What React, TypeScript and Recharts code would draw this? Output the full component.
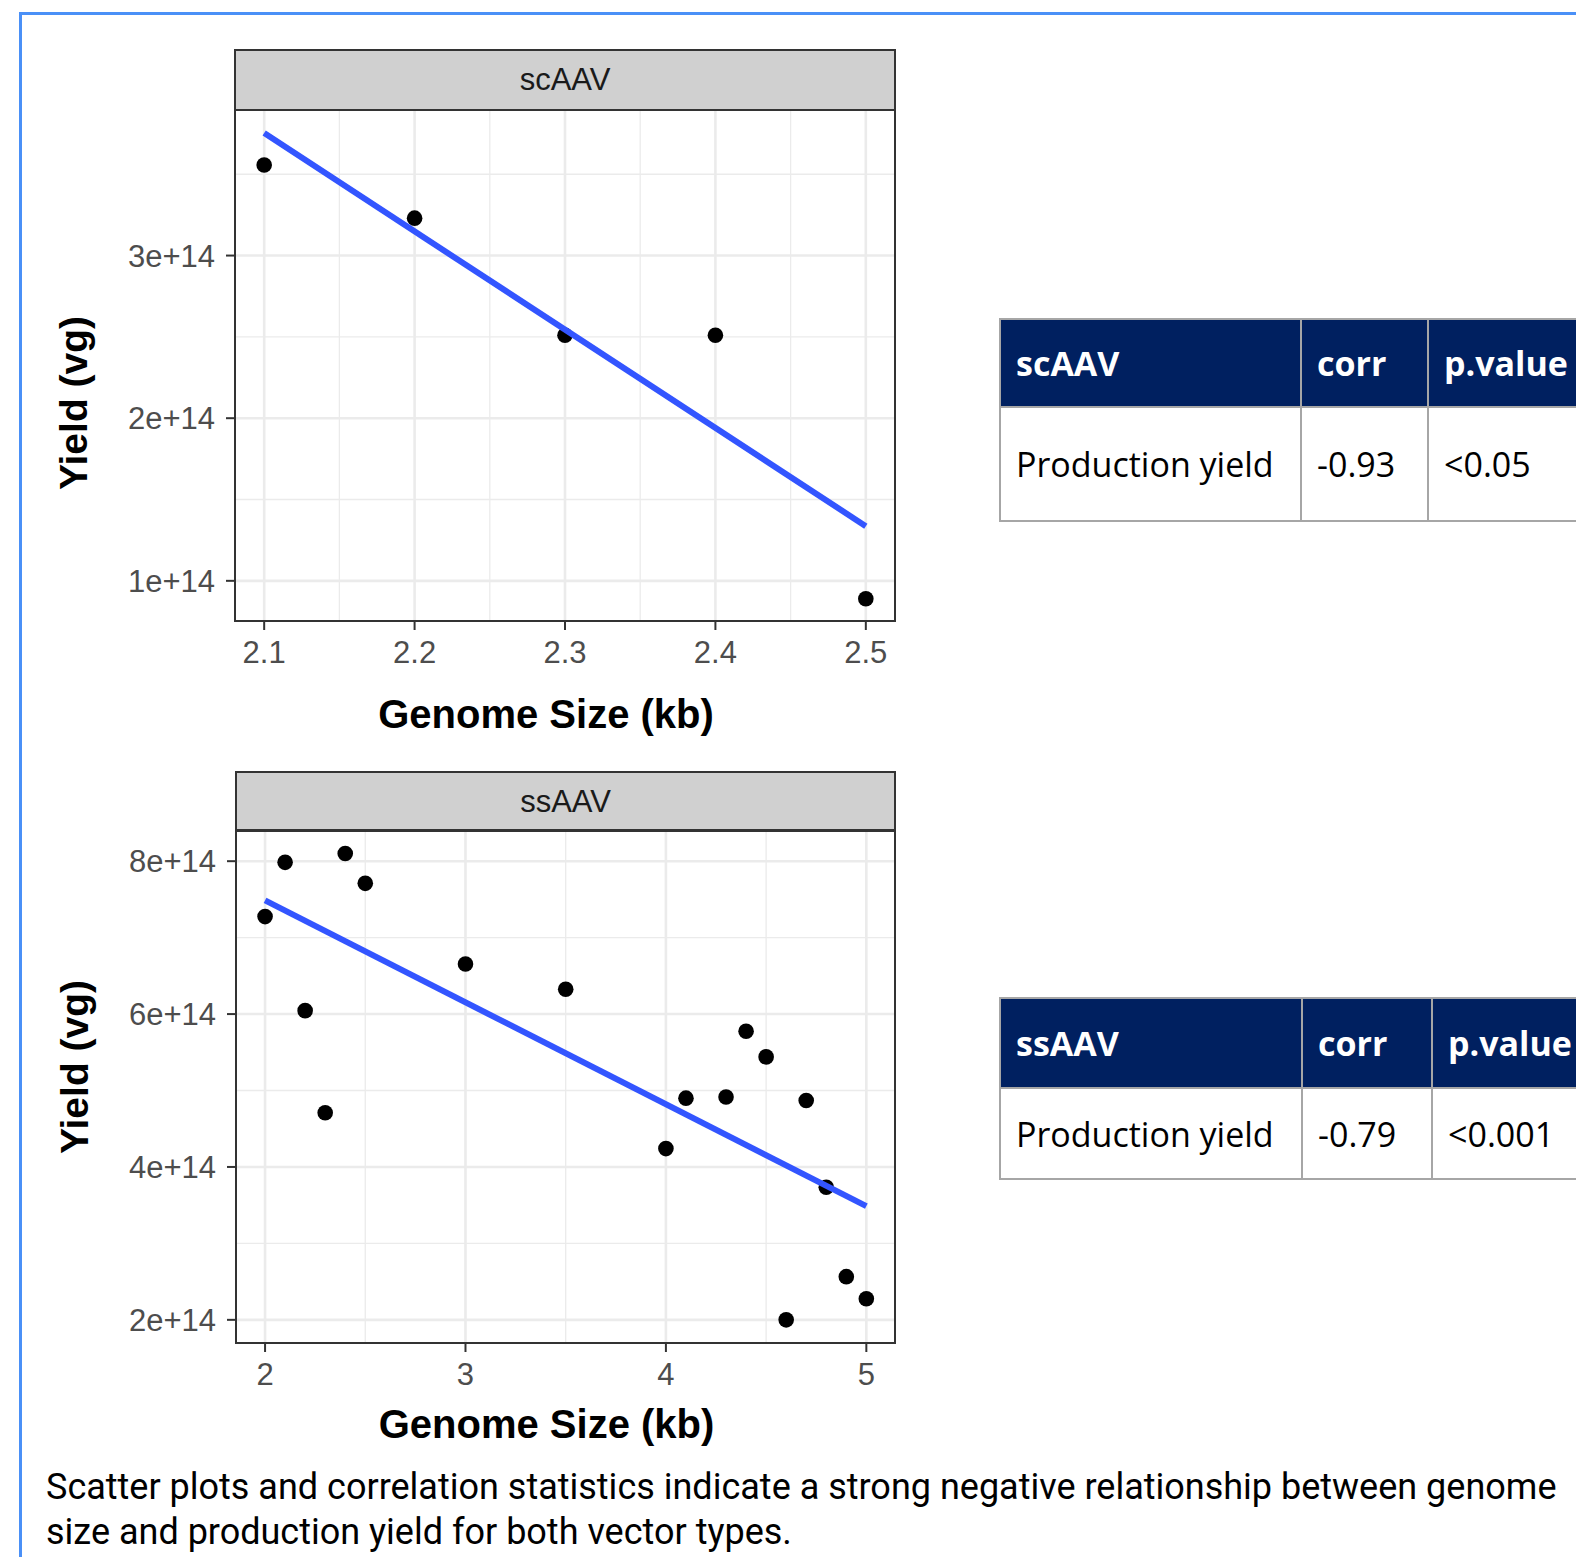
import React from 'react';
import { ScatterChart, Scatter, XAxis, YAxis, CartesianGrid } from 'recharts';

// ---------- data: scAAV ----------
const scSizes = [2.1, 2.2, 2.3, 2.4, 2.5];
const scYields = [3.557e14, 3.23e14, 2.51e14, 2.51e14, 0.89e14];
const scFitSizes = [2.1, 2.5];
const scFitYields = [3.753e14, 1.336e14];
const scXTicks = [2.1, 2.2, 2.3, 2.4, 2.5];
const scXMinor = [2.15, 2.25, 2.35, 2.45];
const scYTicks = [1e14, 2e14, 3e14];
const scYMinor = [1.5e14, 2.5e14, 3.5e14];
const scXDomain = [2.0806, 2.5194];
const scYDomain = [0.753e14, 3.895e14];

// ---------- data: ssAAV ----------
const ssSizes = [2.0, 2.1, 2.2, 2.3, 2.4, 2.5, 3.0, 3.5, 4.0, 4.1, 4.3, 4.4, 4.5, 4.6, 4.7, 4.8, 4.9, 5.0];
const ssYields = [
  7.275e14, 7.985e14, 6.045e14, 4.71e14, 8.1e14, 7.71e14, 6.655e14, 6.325e14, 4.24e14,
  4.9e14, 4.915e14, 5.775e14, 5.44e14, 2.0e14, 4.87e14, 3.735e14, 2.565e14, 2.275e14,
];
const ssFitSizes = [2.0, 5.0];
const ssFitYields = [7.487e14, 3.487e14];
const ssXTicks = [2, 3, 4, 5];
const ssXMinor = [2.5, 3.5, 4.5];
const ssYTicks = [2e14, 4e14, 6e14, 8e14];
const ssYMinor = [3e14, 5e14, 7e14];
const ssXDomain = [1.855, 5.143];
const ssYDomain = [1.697e14, 8.408e14];

// ---------- tables ----------
const scTableHeader = ['scAAV', 'corr', 'p.value'];
const scTableRow = ['Production yield', '-0.93', '<0.05'];
const ssTableHeader = ['ssAAV', 'corr', 'p.value'];
const ssTableRow = ['Production yield', '-0.79', '<0.001'];

const captionLines = [
  'Scatter plots and correlation statistics indicate a strong negative relationship between genome',
  'size and production yield for both vector types.',
];

const PLOT_FONT = '"Liberation Sans", Arial, Helvetica, sans-serif';
const TABLE_FONT = '"Open Sans", "Noto Sans", sans-serif';
const CAPTION_FONT = 'Roboto, "Noto Sans", sans-serif';

const fmtSci = (v: number) => `${Math.round(v / 1e14)}e+14`;

const Dot = (p: any) => <circle cx={p.cx} cy={p.cy} r={7.8} fill="#000" />;
const NoShape = () => <g />;

type PanelProps = {
  top: number;
  title: string;
  sizes: number[];
  yields: number[];
  fitSizes: number[];
  fitYields: number[];
  xTicks: number[];
  xMinor: number[];
  yTicks: number[];
  yMinor: number[];
  xDomain: number[];
  yDomain: number[];
  marginLeft: number;
  xTitleBaseline: number;
  yTitleCenter: number;
  stripTop: number;
  stripHeight: number;
  panelHeight: number;
};

function Panel(props: PanelProps) {
  const points = props.sizes.map((x, i) => ({ x, y: props.yields[i] }));
  const fit = props.fitSizes.map((x, i) => ({ x, y: props.fitYields[i] }));
  const W = 900;
  const H = 760;
  const marginTop = 110;
  const xAxisH = 120;
  const marginBottom = H - marginTop - props.panelHeight - xAxisH;
  const plotLeft = props.marginLeft + 100;
  const plotRight = W - 5;

  const xTitle = (lp: any) => {
    const vb = lp.viewBox || {};
    return (
      <text
        x={vb.x + vb.width / 2 - 19}
        y={vb.y + props.xTitleBaseline}
        textAnchor="middle"
        fontFamily={PLOT_FONT}
        fontWeight="bold"
        fontSize={40}
        fill="#000"
      >
        Genome Size (kb)
      </text>
    );
  };
  const yTitle = (lp: any) => {
    const vb = lp.viewBox || {};
    const x = vb.x - 48;
    const y = vb.y + props.yTitleCenter;
    return (
      <text
        x={x}
        y={y}
        transform={`rotate(-90, ${x}, ${y})`}
        textAnchor="middle"
        fontFamily={PLOT_FONT}
        fontWeight="bold"
        fontSize={39}
        fill="#000"
      >
        Yield (vg)
      </text>
    );
  };

  const tickStyle = { fill: '#4d4d4d', fontSize: 31, fontFamily: PLOT_FONT };

  return (
    <div style={{ position: 'absolute', left: 0, top: props.top, width: W, height: H }}>
      <ScatterChart
        width={W}
        height={H}
        margin={{ top: marginTop, right: 5, bottom: marginBottom, left: props.marginLeft }}
      >
        <CartesianGrid
          stroke="#ebebeb"
          strokeWidth={1.3}
          horizontalValues={props.yMinor}
          verticalValues={props.xMinor}
        />
        <CartesianGrid
          stroke="#ebebeb"
          strokeWidth={2.6}
          horizontalValues={props.yTicks}
          verticalValues={props.xTicks}
        />
        <XAxis
          type="number"
          dataKey="x"
          domain={props.xDomain}
          ticks={props.xTicks}
          allowDataOverflow
          height={xAxisH}
          axisLine={false}
          tickLine={{ stroke: '#333', strokeWidth: 2 }}
          tickSize={9}
          tickMargin={11}
          tick={tickStyle}
          interval={0}
          label={{ content: xTitle }}
        />
        <YAxis
          type="number"
          dataKey="y"
          domain={props.yDomain}
          ticks={props.yTicks}
          allowDataOverflow
          width={100}
          axisLine={false}
          tickLine={{ stroke: '#333', strokeWidth: 2 }}
          tickSize={9}
          tickMargin={11}
          tick={tickStyle}
          interval={0}
          tickFormatter={fmtSci}
          label={{ content: yTitle }}
        />
        <Scatter data={points} fill="#000" shape={Dot} isAnimationActive={false} />
        <Scatter
          data={fit}
          fill="#3355ff"
          shape={NoShape}
          line={{ stroke: '#3355ff', strokeWidth: 6 }}
          isAnimationActive={false}
        />
      </ScatterChart>
      {/* facet strip */}
      <div
        style={{
          position: 'absolute',
          left: plotLeft - 1,
          top: props.stripTop,
          width: plotRight - plotLeft + 2,
          height: props.stripHeight,
          boxSizing: 'border-box',
          border: '2px solid #333',
          background: '#d0d0d0',
          display: 'flex',
          alignItems: 'center',
          justifyContent: 'center',
          fontFamily: PLOT_FONT,
          fontSize: 31,
          color: '#1a1a1a',
        }}
      >
        {props.title}
      </div>
      {/* panel border */}
      <div
        style={{
          position: 'absolute',
          left: plotLeft - 1,
          top: marginTop - 1,
          width: plotRight - plotLeft + 2,
          height: props.panelHeight + 2,
          boxSizing: 'border-box',
          border: '2px solid #333',
          pointerEvents: 'none',
        }}
      />
    </div>
  );
}

type TableProps = {
  left: number;
  top: number;
  colWidths: number[];
  rowHeights: number[];
  header: string[];
  row: string[];
};

function StatTable(p: TableProps) {
  const cellBase: React.CSSProperties = {
    border: '2px solid #a6a6a6',
    padding: '0 0 0 15px',
    textAlign: 'left',
    verticalAlign: 'middle',
    fontFamily: TABLE_FONT,
    fontSize: 34,
    whiteSpace: 'nowrap',
    overflow: 'hidden',
  };
  return (
    <table
      style={{
        position: 'absolute',
        left: p.left,
        top: p.top,
        borderCollapse: 'collapse',
        tableLayout: 'fixed',
        width: p.colWidths.reduce((a, b) => a + b, 0),
      }}
    >
      <colgroup>
        {p.colWidths.map((w, i) => (
          <col key={i} style={{ width: w }} />
        ))}
      </colgroup>
      <tbody>
        <tr style={{ height: p.rowHeights[0] }}>
          {p.header.map((h, i) => (
            <th key={i} style={{ ...cellBase, background: '#002060', color: '#fff', fontWeight: 700 }}>
              {h}
            </th>
          ))}
        </tr>
        <tr style={{ height: p.rowHeights[1] }}>
          {p.row.map((c, i) => (
            <td key={i} style={{ ...cellBase, background: '#fff', color: '#000', fontWeight: 400 }}>
              {c}
            </td>
          ))}
        </tr>
      </tbody>
    </table>
  );
}

export default function App() {
  return (
    <div
      style={{
        position: 'absolute',
        left: 0,
        top: 0,
        width: 1576,
        height: 1557,
        overflow: 'hidden',
        background: '#fff',
      }}
    >
      {/* blue frame */}
      <div
        style={{
          position: 'absolute',
          left: 19,
          top: 12,
          width: 1700,
          height: 1700,
          borderLeft: '3px solid #4a90f7',
          borderTop: '3px solid #4a90f7',
        }}
      />
      <Panel
        top={0}
        title="scAAV"
        sizes={scSizes}
        yields={scYields}
        fitSizes={scFitSizes}
        fitYields={scFitYields}
        xTicks={scXTicks}
        xMinor={scXMinor}
        yTicks={scYTicks}
        yMinor={scYMinor}
        xDomain={scXDomain}
        yDomain={scYDomain}
        marginLeft={135}
        xTitleBaseline={107}
        yTitleCenter={293}
        stripTop={49}
        stripHeight={62}
        panelHeight={511}
      />
      <Panel
        top={720}
        title="ssAAV"
        sizes={ssSizes}
        yields={ssYields}
        fitSizes={ssFitSizes}
        fitYields={ssFitYields}
        xTicks={ssXTicks}
        xMinor={ssXMinor}
        yTicks={ssYTicks}
        yMinor={ssYMinor}
        xDomain={ssXDomain}
        yDomain={ssYDomain}
        marginLeft={136}
        xTitleBaseline={95}
        yTitleCenter={237}
        stripTop={51}
        stripHeight={61}
        panelHeight={513}
      />
      <StatTable
        left={999}
        top={318}
        colWidths={[301, 127, 200]}
        rowHeights={[88, 114]}
        header={scTableHeader}
        row={scTableRow}
      />
      <StatTable
        left={999}
        top={997}
        colWidths={[302, 130, 200]}
        rowHeights={[90, 91]}
        header={ssTableHeader}
        row={ssTableRow}
      />
      <div
        style={{
          position: 'absolute',
          left: 46,
          top: 1465,
          fontFamily: CAPTION_FONT,
          fontSize: 36,
          lineHeight: '45px',
          letterSpacing: '0px',
          color: '#000',
          whiteSpace: 'nowrap',
        }}
      >
        {captionLines[0]}
        <br />
        {captionLines[1]}
      </div>
    </div>
  );
}
